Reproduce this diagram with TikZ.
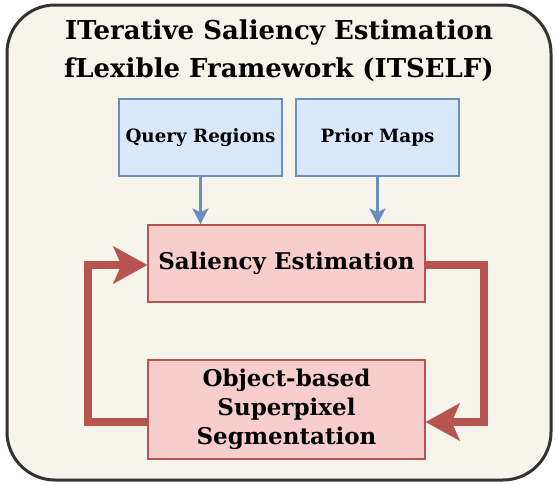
\documentclass[tikz,border=0pt]{standalone}
\usepackage{fontspec}
\setmainfont{DejaVu Serif}
\usetikzlibrary{arrows.meta}
\definecolor{framefill}{HTML}{F7F4EC}
\definecolor{framedraw}{HTML}{333333}
\definecolor{bluefill}{HTML}{DAE8FC}
\definecolor{bluedraw}{HTML}{6C8EBF}
\definecolor{redfill}{HTML}{F8CECC}
\definecolor{reddraw}{HTML}{B85450}
\tikzset{
  inbox/.style={draw=bluedraw, fill=bluefill, line width=1.2pt, minimum width=163pt, minimum height=77pt, font=\fontsize{18.3}{22}\selectfont\bfseries, align=center, inner sep=0pt},
  stagebox/.style={draw=reddraw, fill=redfill, line width=1.2pt, minimum width=277pt, font=\fontsize{23}{29}\selectfont\bfseries, align=center, inner sep=0pt},
  feed/.style={draw=bluedraw, line width=2.4pt, -{Stealth[width=16pt,length=16pt,inset=4pt]}},
  loop/.style={draw=reddraw, line width=8pt, miter limit=10, -{Stealth[width=37pt,length=34pt,inset=8pt]}}
}
\begin{document}
\begin{tikzpicture}[x=1pt,y=-1pt]
\useasboundingbox (0,0) rectangle (558,485);
% outer frame
\draw[framedraw, fill=framefill, line width=3pt, rounded corners=48pt] (7,5) rectangle (551,480);
\node[font=\fontsize{26}{38}\selectfont\bfseries, align=center] (title) at (279,51) {ITerative Saliency Estimation\\fLexible Framework (ITSELF)};
% inputs
\node[inbox] (query) at (200.5,137.5) {Query Regions};
\node[inbox] (prior) at (377.5,137.5) {Prior Maps};
% stages
\node[stagebox, minimum height=77pt] (sal) at (286.5,263.5) {Saliency Estimation};
\node[stagebox, minimum height=99pt] (seg) at (286.5,409.5) {Object-based\\Superpixel\\Segmentation};
% input arrows
\draw[feed] (query.south) -- (query.south |- sal.north);
\draw[feed] (prior.south) -- (prior.south |- sal.north);
% iteration loop
\coordinate (rtop) at (484,265);
\coordinate (rbot) at (484,422);
\coordinate (ltop) at (88,265);
\coordinate (lbot) at (88,422);
\draw[loop] (sal.east |- rtop) -- (rtop) -- (rbot) -- (seg.east |- rbot);
\draw[loop] (seg.west |- lbot) -- (lbot) -- (ltop) -- (sal.west |- ltop);
\end{tikzpicture}
\end{document}
